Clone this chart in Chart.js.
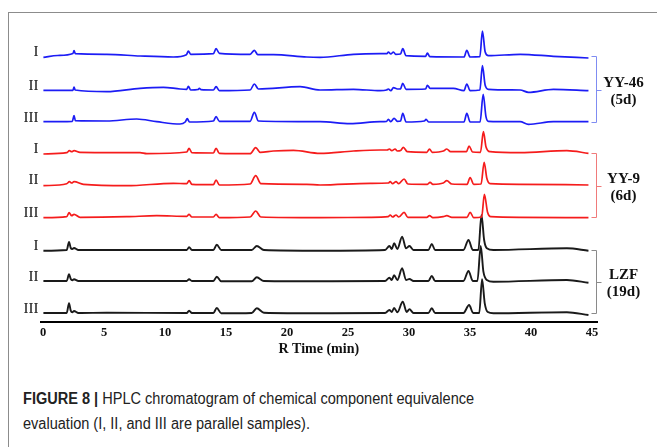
<!DOCTYPE html>
<html>
<head>
<meta charset="utf-8">
<title>HPLC chromatogram</title>
<script src="https://cdn.jsdelivr.net/npm/chart.js"></script>
<style>
    html, body { margin: 0; padding: 0; background: #fff; }
    #page { position: relative; width: 657px; height: 447px; overflow: hidden; }
    #frame {
        position: absolute; left: 8px; top: 12px; right: 0; bottom: 0;
        border-left: 1px solid #8c8c8c; border-top: 1px solid #8c8c8c;
    }
    #plot { position: absolute; left: 0; top: 0; }
    #caption {
        position: absolute; left: 23px; top: 386px;
        font-family: "Liberation Sans", Arial, sans-serif;
        font-size: 16px; line-height: 25px; color: #222;
        white-space: nowrap; transform-origin: 0 0;
    }
    #caption b { font-weight: bold; }
</style>
</head>
<body>
<div id="page">
    <div id="frame"></div>
    <canvas id="plot" width="657" height="360"></canvas>
    <div id="caption"><span id="capLine1"><b>FIGURE 8 |</b> HPLC chromatogram of chemical component equivalence</span><br>evaluation (I, II, and III are parallel samples).</div>
</div>

<script>
// ---------------- Data (retention time in min, signal above own baseline) ----------------
const xTicks = [0, 5, 10, 15, 20, 25, 30, 35, 40, 45];
const sampleLabels = ["I", "II", "III"];
const groupNames = [["YY-46", "(5d)"], ["YY-9", "(6d)"], ["LZF", "(19d)"]];
const traceOffsets = [266, 232, 200, 169, 138, 105, 72, 41, 9];

const yy46_I = [[0.03,-1.3],[1.2,0.5],[2.45,2.5],[2.54,5.3],[2.65,2.3],[5.22,1.7],[7.95,0],[10.68,-1],[11.75,1.3],[11.91,5],[12.1,1.7],[13.96,2.3],[14.18,7.3],[14.45,2.7],[16.97,1.7],[17.32,5.7],[17.6,1.3],[18.88,1.3],[21.61,-1],[22.7,-1.3],[25.44,1.7],[27.62,2.3],[28.18,2.3],[28.3,4],[28.5,2],[28.72,4],[28.9,1.7],[29.3,2],[29.48,7.3],[29.75,0.3],[31.35,-0.3],[31.5,3],[31.7,-0.7],[34.5,-1],[34.73,5.7],[35.0,-1],[35.8,-0.7],[36.01,25],[36.23,4.3],[36.5,0.3],[39.1,1.7],[41.83,-0.3],[44.7,-2]];
const yy46_II = [[0.03,-0.3],[2.45,-0.3],[2.54,3],[2.63,0],[5.22,-1.7],[7.95,1.7],[9.86,2.7],[11.23,1],[11.78,0.7],[11.91,3.7],[12.1,0],[12.7,0.5],[12.81,1.7],[12.95,0.3],[13.96,0],[14.18,3.3],[14.45,-0.7],[16.97,0],[17.32,6],[17.65,1],[21.07,3.3],[22.7,0],[25.44,0.7],[27.62,-0.7],[28.15,0],[28.3,1],[28.5,-0.7],[28.72,2.3],[29.04,1],[29.3,1.2],[29.48,6.7],[29.75,0.7],[31.35,1],[31.5,4.7],[31.72,1.7],[33.63,1.7],[34.5,-0.7],[34.73,6],[35.0,-0.7],[35.8,0],[36.01,24.3],[36.23,5],[36.5,0.7],[39.1,0],[39.78,-2.3],[41.83,0.7],[44.7,-0.7]];
const yy46_III = [[0.03,0.3],[2.4,0.7],[2.54,6.3],[2.65,1.3],[5.22,1],[7.68,3],[9.32,0.3],[11.23,-2],[11.65,0],[11.82,3.3],[12.0,0],[13.96,1],[14.18,5.3],[14.45,0.7],[16.97,0.7],[17.32,9.7],[17.65,1],[22.7,0.3],[25.16,-1.7],[27.62,0.3],[28.15,0.5],[28.3,2.7],[28.5,0.3],[28.77,3.7],[29.04,0.7],[29.3,1],[29.48,8.7],[29.75,0],[31.25,1],[31.39,2.7],[31.6,0],[34.5,0],[34.73,8.7],[35.0,0],[35.82,0],[36.07,27.7],[36.3,5.3],[36.5,0.7],[39.1,0.3],[39.78,-2.3],[41.83,0.3],[44.7,0.3]];

const yy9_I = [[0.03,-1],[1.94,0.3],[2.16,2.3],[2.35,1.3],[2.54,2.3],[3.03,0.7],[7.95,0.3],[8.5,-0.7],[11.78,1],[11.97,4.7],[12.2,0.3],[13.96,0],[14.18,4.7],[14.45,-0.3],[16.97,-0.7],[17.43,5.3],[17.8,0.7],[18.88,2],[20.52,2.7],[22.7,-0.3],[25.44,2],[27.62,3],[28.2,3],[28.39,4],[28.58,2.3],[28.85,4],[29.04,2],[29.3,2.5],[29.53,5.7],[29.85,1.3],[31.45,0.7],[31.67,4],[31.9,0.7],[32.81,2],[33.09,4],[33.4,1.3],[34.7,1.3],[34.92,7],[35.2,1],[35.85,0.7],[36.09,21.3],[36.3,6.3],[36.64,1.3],[39.1,0.3],[42.93,2.3],[44.7,-0.3]];
const yy9_II = [[0.03,-1.7],[1.94,0.3],[2.16,2.3],[2.35,1],[2.54,2.3],[3.31,-0.3],[6.86,-1.7],[10.68,0.7],[11.78,0.3],[11.97,3.3],[12.2,-0.3],[13.96,-0.7],[14.18,4],[14.45,-1],[16.97,0],[17.43,8.3],[17.85,0.3],[21.61,-0.3],[22.7,-1],[26.8,0.7],[28.3,1],[28.45,2.3],[28.65,0.3],[28.93,2.3],[29.15,0.3],[29.59,5],[29.9,0],[31.5,-0.3],[31.72,1.7],[31.95,-0.3],[32.8,1],[33.09,3.3],[33.5,0],[34.75,-0.3],[35.0,6.3],[35.3,-0.3],[35.9,0],[36.15,21.7],[36.37,5.7],[36.64,0.3],[39.1,-0.3],[44.7,-1]];
const yy9_III = [[0.03,-0.7],[1.94,0.3],[2.13,4.3],[2.35,1.3],[2.54,2.7],[3.03,-0.3],[6.86,0.3],[9.32,1.3],[11.78,0.7],[11.97,2.7],[12.2,0],[13.96,0],[14.18,2.7],[14.45,-0.7],[16.97,0],[17.43,6],[17.85,0],[22.7,-0.7],[26.8,-0.3],[28.3,0.3],[28.45,2],[28.65,0],[28.93,2],[29.15,0],[29.59,4.7],[29.9,-0.3],[31.45,-0.3],[31.67,1.3],[31.95,-0.7],[32.8,0.3],[33.09,1.3],[33.5,-0.3],[34.75,-0.3],[35.0,4.7],[35.3,-0.7],[35.95,0],[36.17,22.7],[36.43,4.7],[36.7,0.3],[39.1,-0.3],[44.7,-0.7]];

const lzf_I = [[0.03,-0.7],[1.94,0],[2.13,8],[2.27,2],[2.4,1],[2.54,2],[2.9,0],[11.78,0],[11.97,2.7],[12.2,0],[13.96,0],[14.24,5.3],[14.6,0],[17.1,0],[17.52,4],[18.1,0],[22.7,-0.7],[28.03,0],[28.39,4],[28.58,1],[28.77,6.7],[29.04,1],[29.43,13.3],[29.75,1.7],[30.03,4],[30.36,0],[31.58,0],[31.86,6],[32.13,0],[34.45,0],[34.87,10],[35.22,0],[35.68,0],[35.93,35],[36.15,10],[36.37,1.7],[36.91,0],[42.93,1.7],[44.7,-0.7]];
const lzf_II = [[0.03,0],[1.94,0],[2.13,6.7],[2.27,2],[2.4,0.7],[2.54,1.7],[2.9,0],[11.78,0],[11.97,1.7],[12.2,0],[13.96,0],[14.24,4.3],[14.6,-0.3],[17.1,-0.3],[17.52,3.7],[18.1,0],[22.7,-0.3],[28.03,0],[28.39,3.3],[28.58,1],[28.77,5.7],[29.04,1],[29.43,12.7],[29.75,1],[30.03,2],[30.36,0],[31.58,0],[31.86,5],[32.13,0],[34.45,0],[34.87,10],[35.22,0],[35.6,0],[35.87,35],[36.09,9.3],[36.37,1],[36.91,-0.7],[42.93,1],[44.7,-1.7]];
const lzf_III = [[0.03,0],[1.94,0],[2.13,9.7],[2.27,2.3],[2.4,0.7],[2.54,2],[2.9,0],[5.22,0.3],[11.78,0],[11.97,2.3],[12.2,0],[13.96,0],[14.24,5],[14.6,-0.3],[17.1,0],[17.52,4.7],[18.1,0.3],[22.7,-0.3],[28.03,0],[28.39,3],[28.58,1],[28.77,5],[29.04,0.7],[29.48,11.3],[29.8,1],[30.03,3.7],[30.36,0],[31.58,0],[31.86,4.7],[32.13,0],[34.45,0],[34.92,8],[35.25,0],[35.75,0],[35.98,33.7],[36.2,9.7],[36.45,1],[36.91,-0.3],[42.93,0.7],[44.7,-2]];

const traces = [yy46_I, yy46_II, yy46_III, yy9_I, yy9_II, yy9_III, lzf_I, lzf_II, lzf_III];
const groupColors = ["#1c1cf5", "#f51c1c", "#1a1a1a"];
const bracketColors = ["#7f8cf2", "#f07a7a", "#8a8a8a"];

const serif = "'Liberation Serif', 'Times New Roman', serif";


// ---------------- Brackets and group names ----------------
const groupBrackets = {
    id: "groupBrackets",
    afterDraw(chart) {
        const ctx = chart.ctx;
        const yScale = chart.scales.y;
        const x = Math.round(chart.chartArea.right) - 0.5;

        groupNames.forEach((lines, g) => {
            const top = Math.round(yScale.getPixelForValue(traceOffsets[g * 3])) + 0.5;
            const bottom = Math.round(yScale.getPixelForValue(traceOffsets[g * 3 + 2])) + 0.5;
            const mid = Math.round((top + bottom) / 2) + 0.5;

            ctx.save();
            ctx.strokeStyle = bracketColors[g];
            ctx.lineWidth = 1;
            ctx.beginPath();
            ctx.moveTo(x - 5, top);
            ctx.lineTo(x, top);
            ctx.lineTo(x, bottom);
            ctx.lineTo(x - 5, bottom);
            ctx.moveTo(x, mid);
            ctx.lineTo(x + 5, mid);
            ctx.stroke();

            ctx.fillStyle = "#111";
            ctx.font = "bold 15px " + serif;
            ctx.textAlign = "center";
            ctx.textBaseline = "middle";
            ctx.fillText(lines[0], x + 27, mid - 7);
            ctx.fillText(lines[1], x + 27, mid + 10);
            ctx.restore();
        });
    }
};


// ---------------- Chart ----------------
const datasets = traces.map((trace, i) => ({
    label: groupNames[Math.floor(i / 3)][0] + " " + sampleLabels[i % 3],
    data: trace.map(p => ({ x: p[0], y: p[1] + traceOffsets[i] })),
    borderColor: groupColors[Math.floor(i / 3)],
    borderWidth: i >= 6 ? 1.9 : 1.7,
    pointRadius: 0,
    fill: false,
    cubicInterpolationMode: "monotone",
    clip: false
}));

new Chart(document.getElementById("plot"), {
    type: "line",
    data: { datasets: datasets },
    options: {
        responsive: false,
        animation: false,
        devicePixelRatio: 1,
        layout: { padding: { top: 22, right: 60, left: 0, bottom: 0 } },
        plugins: {
            legend: { display: false },
            tooltip: { enabled: false }
        },
        scales: {
            x: {
                type: "linear",
                min: -0.2,
                max: 45.4,
                afterBuildTicks: s => { s.ticks = xTicks.map(v => ({ value: v })); },
                afterFit: s => { s.height = 38; },
                grid: { display: false, drawTicks: false },
                border: { display: true, color: "#000", width: 2 },
                ticks: {
                    autoSkip: false,
                    maxRotation: 0,
                    padding: 3,
                    color: "#111",
                    font: { family: serif, size: 12.5, weight: "bold" }
                },
                title: {
                    display: true,
                    text: "R Time (min)",
                    color: "#111",
                    padding: { top: 0, bottom: 2 },
                    font: { family: serif, size: 14, weight: "bold" }
                }
            },
            y: {
                min: 0,
                max: 300,
                afterBuildTicks: s => { s.ticks = traceOffsets.slice().sort((a, b) => a - b).map(v => ({ value: v })); },
                afterFit: s => { s.width = 40.6; },
                grid: { display: false, drawTicks: false },
                border: { display: false },
                ticks: {
                    autoSkip: false,
                    padding: 2,
                    labelOffset: -4,
                    color: "#111",
                    font: { family: serif, size: 15 },
                    callback: v => sampleLabels[traceOffsets.indexOf(v) % 3]
                }
            }
        }
    },
    plugins: [groupBrackets]
});


// ---------------- Caption width ----------------
const line1 = document.getElementById("capLine1");
const w = line1.getBoundingClientRect().width;
document.getElementById("caption").style.transform = "scaleX(" + (451 / w).toFixed(3) + ")";
</script>
</body>
</html>
